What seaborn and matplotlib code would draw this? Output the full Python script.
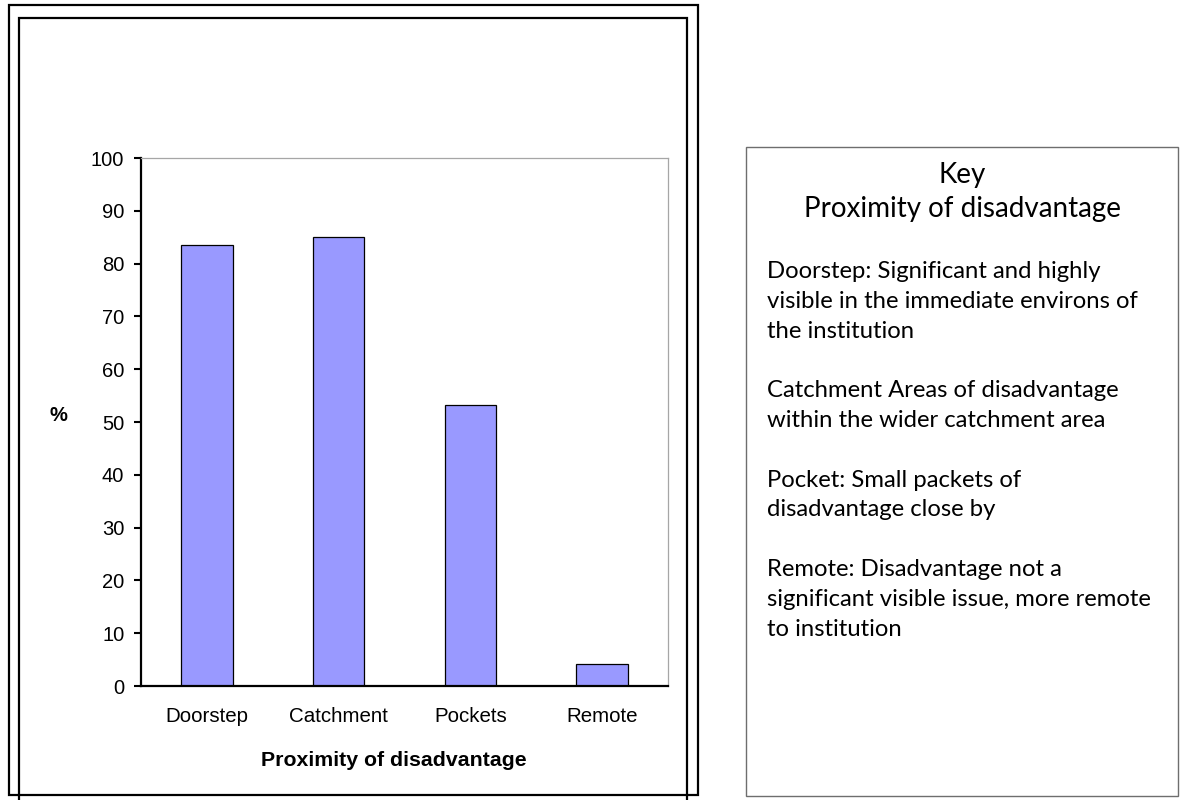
import matplotlib
matplotlib.use("Agg")
import matplotlib.pyplot as plt
from matplotlib.patches import Rectangle
import seaborn as sns
import pandas as pd

# Share of institutions by proximity of disadvantage (%)
categories = ["Doorstep", "Catchment", "Pockets", "Remote"]
percentages = [83.6, 85.1, 53.3, 4.2]
y_ticks = [0, 10, 20, 30, 40, 50, 60, 70, 80, 90, 100]
x_title = "Proximity of disadvantage"
y_title = "%"

key_title = ["Key", "Proximity of disadvantage"]
key_paragraphs = [
    ["Doorstep: Significant and highly",
     "visible in the immediate environs of",
     "the institution"],
    ["Catchment Areas of disadvantage",
     "within the wider catchment area"],
    ["Pocket: Small packets of",
     "disadvantage close by"],
    ["Remote: Disadvantage not a",
     "significant visible issue, more remote",
     "to institution"],
]

sns.set_style("white")
plt.rcParams["font.family"] = ["Liberation Sans", "DejaVu Sans"]
plt.rcParams["text.color"] = "black"
plt.rcParams["xtick.color"] = "black"
plt.rcParams["ytick.color"] = "black"

W, H = 1185, 800
fig = plt.figure(figsize=(W / 100, H / 100), dpi=100)


def fx(px):
    return px / W


def fy(py):
    return 1 - py / H


df = pd.DataFrame({"category": categories, "pct": percentages})

ax = fig.add_axes([fx(141), fy(686), fx(668) - fx(141), fy(158) - fy(686)])
sns.barplot(data=df, x="category", y="pct", color="#9999ff", saturation=1,
            edgecolor="black", linewidth=0.9, width=0.39, ax=ax)

ax.set_xlim(-0.5, len(categories) - 0.5)
ax.set_ylim(0, 100)
ax.set_yticks(y_ticks)
ax.set_yticklabels([str(t) for t in y_ticks], fontsize=14.5, color="black")

# category labels sit between boundary ticks
ax.set_xticks(range(len(categories)))
ax.set_xticklabels(categories, fontsize=14.8, color="black")
ax.set_xticks([i - 0.5 for i in range(len(categories) + 1)], minor=True)
ax.tick_params(axis="x", which="major", length=0, pad=15)
ax.tick_params(axis="x", which="minor", length=5, width=1.5, direction="out",
               color="black")
ax.tick_params(axis="y", which="major", length=5, width=1.5, direction="out",
               color="black", pad=7, left=True)

for side in ("left", "bottom"):
    ax.spines[side].set_color("black")
    ax.spines[side].set_linewidth(1.6)
for side in ("top", "right"):
    ax.spines[side].set_color("#a6a6a6")
    ax.spines[side].set_linewidth(0.9)

ax.set_xlabel("")
ax.set_ylabel("")
fig.text(fx(394), fy(761), x_title, fontsize=15.3, fontweight="bold",
         ha="center", va="center", color="black")
fig.text(fx(58), fy(415), y_title, fontsize=14.5, fontweight="bold",
         ha="center", va="center", color="black")

# double frame around the chart panel
fig.add_artist(Rectangle((fx(9), fy(795)), fx(698) - fx(9), fy(5) - fy(795),
                         transform=fig.transFigure, fill=False,
                         edgecolor="black", linewidth=1.6))
fig.add_artist(Rectangle((fx(19), fy(820)), fx(687) - fx(19), fy(18) - fy(820),
                         transform=fig.transFigure, fill=False,
                         edgecolor="black", linewidth=1.6, clip_on=False))

# key panel
fig.add_artist(Rectangle((fx(746), fy(796)), fx(1178) - fx(746), fy(147) - fy(796),
                         transform=fig.transFigure, fill=False,
                         edgecolor="#6e6e6e", linewidth=1.0))

key_font = ["Lato", "DejaVu Sans"]
cx = (746 + 1178) / 2
fig.text(fx(cx), fy(183), key_title[0], fontsize=20, family=key_font,
         ha="center", va="baseline", color="black")
fig.text(fx(cx), fy(217), key_title[1], fontsize=20, family=key_font,
         ha="center", va="baseline", color="black")

line_step = 29.8
baseline = 278
for para in key_paragraphs:
    for line in para:
        fig.text(fx(767), fy(baseline), line, fontsize=17.2, family=key_font,
                 ha="left", va="baseline", color="black")
        baseline += line_step
    baseline += line_step

fig.savefig("out.png", dpi=100)
